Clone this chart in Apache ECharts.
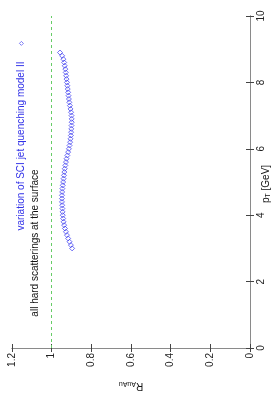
<!DOCTYPE html>
<html>
<head>
<meta charset="utf-8">
<script src="https://cdn.jsdelivr.net/npm/echarts@6/dist/echarts.min.js"></script>
<style>html,body{margin:0;padding:0;background:#fff}#c{width:280px;height:400px}</style>
</head>
<body>
<div id="c"></div>
<script>
const pT = [3.0,3.1,3.2,3.3,3.4,3.5,3.6,3.7,3.8,3.9,4.0,4.1,4.2,4.3,4.4,4.5,4.6,4.7,4.8,4.9,5.0,5.1,5.2,5.3,5.4,5.5,5.6,5.7,5.8,5.9,6.0,6.1,6.2,6.3,6.4,6.5,6.6,6.7,6.8,6.9,7.0,7.1,7.2,7.3,7.4,7.5,7.6,7.7,7.8,7.9,8.0,8.1,8.2,8.3,8.4,8.5,8.6,8.7,8.8,8.9];
const rAuAu = [0.897,0.903,0.910,0.917,0.923,0.928,0.933,0.937,0.940,0.942,0.944,0.945,0.946,0.947,0.948,0.948,0.948,0.947,0.946,0.944,0.942,0.940,0.938,0.936,0.934,0.931,0.928,0.925,0.921,0.917,0.913,0.910,0.907,0.905,0.903,0.902,0.901,0.900,0.899,0.899,0.900,0.902,0.905,0.908,0.911,0.913,0.915,0.917,0.919,0.921,0.923,0.925,0.927,0.929,0.931,0.934,0.937,0.941,0.947,0.958];
const seriesName = 'variation of SCI jet quenching model II';
const annotation = 'all hard scatterings at the surface';
const refLevel = 1;

const chart = echarts.init(document.getElementById('c'), null, {renderer: 'canvas'});
const FONT = '"Liberation Sans", Arial, Helvetica, sans-serif';
const BLUE = '#3a3af0';
const axisCommon = {
  type: 'value',
  axisLine: {show: true, lineStyle: {color: '#8a8a8a', width: 1}},
  axisTick: {show: true, inside: true, length: 4, lineStyle: {color: '#444', width: 1}},
  splitLine: {show: false},
  minorTick: {show: false}
};
chart.setOption({
  animation: false,
  grid: {left: 12, right: 30, top: 16, bottom: 52, containLabel: false, outerBoundsMode: 'none'},
  legend: {
    show: true, left: 19, top: 41, padding: 0, itemWidth: 4, itemHeight: 4, itemGap: 0,
    icon: 'diamond',
    itemStyle: {color: 'rgba(255,255,255,0)', borderColor: BLUE, borderWidth: 0.8},
    formatter: function(){ return ''; },
    textStyle: {fontSize: 1}
  },
  xAxis: [
    Object.assign({}, axisCommon, {
      min: 0, max: 1.2, interval: 0.2, inverse: true, position: 'bottom',
      axisLabel: {rotate: 90, margin: 5, fontSize: 10, color: '#222', fontFamily: FONT}
    }),
    Object.assign({}, axisCommon, {
      min: 0, max: 1.2, interval: 0.2, inverse: true, position: 'top',
      axisLabel: {show: false}
    })
  ],
  yAxis: [
    Object.assign({}, axisCommon, {
      min: 0, max: 10, interval: 2, position: 'right',
      axisLabel: {rotate: 90, margin: 6, fontSize: 10, color: '#222', fontFamily: FONT, align: 'center', verticalAlign: 'top'}
    }),
    Object.assign({}, axisCommon, {
      min: 0, max: 10, interval: 2, position: 'left',
      axisLabel: {show: false}
    })
  ],
  series: [{
    name: seriesName,
    type: 'scatter',
    xAxisIndex: 0, yAxisIndex: 0,
    symbol: 'diamond',
    symbolSize: 5,
    itemStyle: {color: 'rgba(255,255,255,0)', borderColor: BLUE, borderWidth: 0.9},
    data: pT.map((p, i) => [rAuAu[i], p]),
    markLine: {
      silent: true, symbol: ['none', 'none'],
      label: {show: false},
      lineStyle: {color: '#66cc66', width: 1, type: [3, 3], opacity: 1},
      emphasis: {disabled: true},
      data: [{xAxis: refLevel}]
    }
  }],
  graphic: [
    {type: 'text', x: 21, y: 146, rotation: Math.PI / 2,
     style: {text: seriesName, x: 0, y: 0, align: 'center', verticalAlign: 'middle', fill: '#3030e8', font: '10px ' + FONT}},
    {type: 'text', x: 35, y: 243, rotation: Math.PI / 2,
     style: {text: annotation, x: 0, y: 0, align: 'center', verticalAlign: 'middle', fill: '#111', font: '10px ' + FONT}},
    {type: 'text', x: 266, y: 184, rotation: Math.PI / 2,
     style: {text: '{m|p}{s|T}{m| [GeV]}', x: 0, y: 0, align: 'center', verticalAlign: 'middle', fill: '#111',
       rich: {m: {fontSize: 10, fontFamily: FONT, fill: '#111', lineHeight: 12}, s: {fontSize: 7, fontFamily: FONT, fill: '#111', padding: [5, 0, 0, 0], lineHeight: 12}}}},
    {type: 'text', x: 131, y: 386, rotation: Math.PI,
     style: {text: '{m|R}{s|AuAu}', x: 0, y: 0, align: 'center', verticalAlign: 'middle', fill: '#111',
       rich: {m: {fontSize: 10, fontFamily: FONT, fill: '#111', lineHeight: 12}, s: {fontSize: 7, fontFamily: FONT, fill: '#111', padding: [5, 0, 0, 0], lineHeight: 12}}}}
  ]
});
</script>
</body>
</html>
